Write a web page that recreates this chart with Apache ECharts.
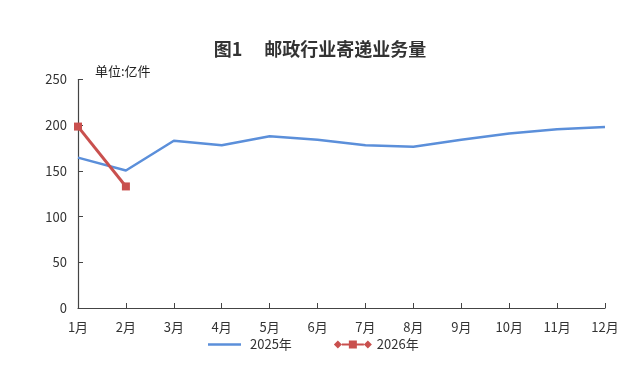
<!DOCTYPE html>
<html><head><meta charset="utf-8">
<script src="https://cdn.jsdelivr.net/npm/echarts@6/dist/echarts.min.js"></script>
<style>html,body{margin:0;padding:0;background:#fff}#c{width:640px;height:373px}</style>
</head><body><div id="c"></div>
<script>
const months = ['1月','2月','3月','4月','5月','6月','7月','8月','9月','10月','11月','12月'];
const series2025 = [164.5, 150.5, 183, 178, 188, 184, 178, 176.5, 184, 191, 195.5, 198];
const series2026 = [198.5, 133];
const yTicks = [0, 50, 100, 150, 200, 250];

const font = '"Microsoft YaHei","Noto Sans CJK SC",sans-serif';
const blue = '#5B8FDA', red = '#C9504E';
const chart = echarts.init(document.getElementById('c'), null, {renderer:'canvas'});
chart.setOption({
  animation: false,
  backgroundColor: '#fff',
  title: {
    text: '图1　 邮政行业寄递业务量',
    left: 'center', top: 35,
    textStyle: {fontSize: 18, fontWeight: 'bold', color: '#333', fontFamily: font}
  },
  graphic: [{
    type: 'text', left: 95, top: 65,
    style: {text: '单位:亿件', font: '13px ' + font, fill: '#222'}
  }],
  legend: {
    bottom: 17, left: 203, itemGap: 42, itemWidth: 38, itemHeight: 8,
    textStyle: {fontSize: 13, color: '#333', fontFamily: font},
    data: [
      {name: '2025年', icon: 'path://M0 0M36 8M0 2.8H33V5.2H0Z', itemStyle: {color: blue}},
      {name: '2026年', icon: 'path://M0 4L4 0L8 4L4 8Z M8 3H15V5H8Z M15 0H23V8H15Z M23 3H30V5H23Z M30 4L34 0L38 4L34 8Z', itemStyle: {color: red}}
    ]
  },
  grid: {left: 78, right: 35, top: 79.5, bottom: 65},
  xAxis: {
    type: 'category', data: months, boundaryGap: false,
    axisLine: {lineStyle: {color: '#444', width: 1.2}},
    axisTick: {inside: true, length: 5, lineStyle: {color: '#444'}},
    axisLabel: {color: '#333', fontSize: 13, margin: 13, fontFamily: font, interval: 0}
  },
  yAxis: {
    type: 'value', min: yTicks[0], max: yTicks[yTicks.length-1], interval: 50,
    splitLine: {show: false},
    axisLine: {show: true, lineStyle: {color: '#444', width: 1.2}},
    axisTick: {show: true, inside: true, length: 5, lineStyle: {color: '#444'}},
    axisLabel: {color: '#333', fontSize: 13, margin: 11, fontFamily: font}
  },
  series: [
    {
      name: '2025年', type: 'line', data: series2025, showSymbol: false, symbol: 'none',
      lineStyle: {color: blue, width: 2.5}, itemStyle: {color: blue}
    },
    {
      name: '2026年', type: 'line', data: series2026, symbol: 'rect', symbolSize: 8,
      lineStyle: {color: red, width: 3}, itemStyle: {color: red}
    }
  ]
});
</script></body></html>
